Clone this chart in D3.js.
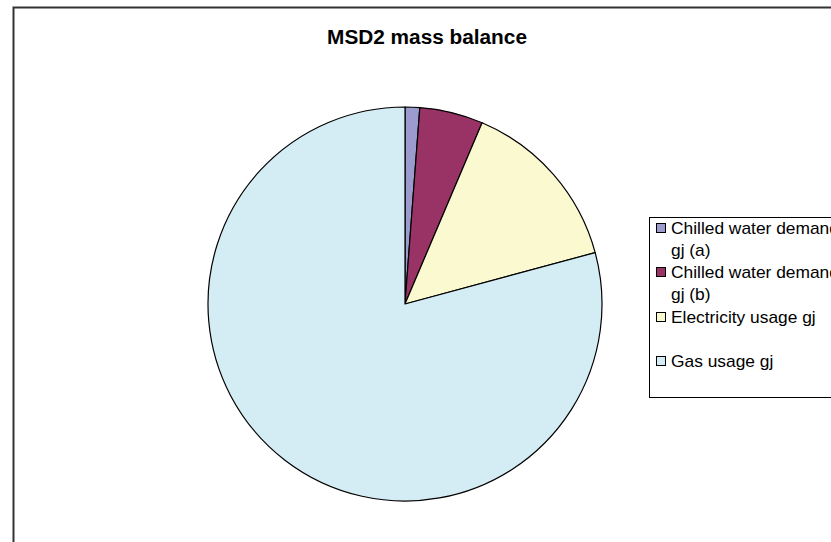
<!doctype html>
<html>
<head>
    <title>MSD2 mass balance</title>
    <meta charset="utf-8">
    <style>
        body { margin: 0; background: #fff; }
        svg { display: block; font-family: "Liberation Sans", Arial, sans-serif; }
    </style>
    <script src="https://d3js.org/d3.v7.min.js"></script>
</head>
<body>
    <svg width="831" height="542"></svg>
    <script>
        // pie data (share of total, %)
        var categories = ["Chilled water demand gj (a)", "Chilled water demand gj (b)", "Electricity usage gj", "Gas usage gj"];
        var legendLines = [["Chilled water demand", "gj (a)"], ["Chilled water demand", "gj (b)"], ["Electricity usage gj"], ["Gas usage gj"]];
        var values = [1.2, 5.2, 14.4, 79.2];
        var colours = ["#9b9bce", "#993366", "#fbf9cf", "#d4ecf3"];

        var svg = d3.select("svg");

        // chart frame (runs off the right and bottom edge)
        svg.append("rect")
            .attr("x", 13.5).attr("y", 7.5)
            .attr("width", 900).attr("height", 600)
            .attr("fill", "#fff")
            .attr("stroke", "#333")
            .attr("stroke-width", 2);

        svg.append("text")
            .attr("transform", "translate(427,44) scale(1.04,1)")
            .attr("text-anchor", "middle")
            .attr("font-size", 20)
            .attr("font-weight", "bold")
            .text("MSD2 mass balance");

        var data = categories.map(function(c, i) { return { name: c, value: values[i], colour: colours[i] }; });

        var pie = d3.pie().sort(null).value(function(d) { return d.value; });
        var arc = d3.arc().innerRadius(0).outerRadius(197);

        var g = svg.append("g").attr("transform", "translate(405,304)");
        g.selectAll("path")
            .data(pie(data))
            .enter().append("path")
            .attr("d", arc)
            .attr("fill", function(d) { return d.data.colour; })
            .attr("stroke", "#000")
            .attr("stroke-width", 1.2)
            .attr("stroke-linejoin", "round");

        // legend
        var legend = svg.append("g");
        legend.append("rect")
            .attr("x", 649.5).attr("y", 217.5)
            .attr("width", 250).attr("height", 180)
            .attr("fill", "#fff")
            .attr("stroke", "#000")
            .attr("stroke-width", 1);

        var rowY = [223, 267, 312, 356];
        var item = legend.selectAll(".item")
            .data(data)
            .enter().append("g")
            .attr("class", "item")
            .attr("transform", function(d, i) { return "translate(656," + rowY[i] + ")"; });

        item.append("rect")
            .attr("x", 0.5).attr("y", 0.5)
            .attr("width", 9).attr("height", 9)
            .attr("fill", function(d) { return d.colour; })
            .attr("stroke", "#000")
            .attr("stroke-width", 1);

        item.each(function(d, i) {
            var t = d3.select(this).append("text")
                .attr("transform", "translate(15,0) scale(1.085,1)")
                .attr("font-size", 16)
                .attr("fill", "#000");
            legendLines[i].forEach(function(line, k) {
                t.append("tspan")
                    .attr("x", 0)
                    .attr("y", 11 + k * 22)
                    .text(line);
            });
        });
    </script>
</body>
</html>
